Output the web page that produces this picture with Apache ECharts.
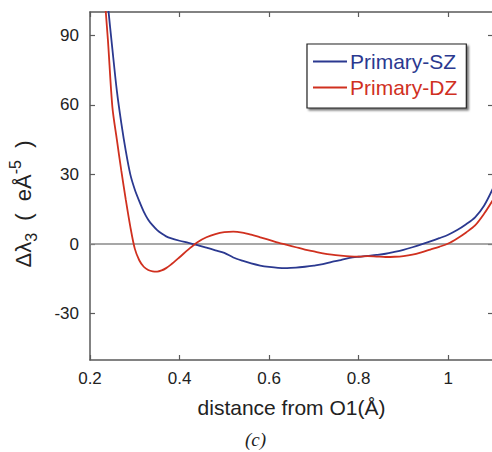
<!DOCTYPE html>
<html>
<head>
<meta charset="utf-8">
<script src="https://cdn.jsdelivr.net/npm/echarts@6/dist/echarts.min.js"></script>
<style>
html,body{margin:0;padding:0;background:#fff;}
#chart{width:492px;height:452px;}
</style>
</head>
<body>
<div id="chart"></div>
<script>
// distance from O1 (Å)
const distance = [0.21,0.22,0.23,0.24,0.25,0.26,0.27,0.28,0.29,0.30,0.31,0.32,0.33,0.34,0.35,0.36,0.37,0.38,0.40,0.42,0.44,0.46,0.48,0.50,0.52,0.54,0.56,0.58,0.60,0.62,0.64,0.66,0.68,0.70,0.72,0.74,0.76,0.78,0.80,0.82,0.84,0.86,0.88,0.90,0.92,0.94,0.96,0.98,1.00,1.02,1.04,1.06,1.08,1.10];
// Primary-SZ
const primarySZ = [175,150,125,103,84,66,52,40,30,23.5,18.5,14,10.5,8,6,4.5,3.3,2.5,1.4,0.5,-0.5,-1.6,-2.7,-3.8,-5.8,-7.2,-8.4,-9.3,-9.9,-10.3,-10.4,-10.2,-9.8,-9.3,-8.7,-7.7,-6.9,-6.0,-5.5,-5.1,-4.7,-4.2,-3.4,-2.5,-1.4,-0.2,1.1,2.5,4.0,6.0,8.5,11.5,16.5,24];
// Primary-DZ
const primaryDZ = [165,138,113,88,59,45,31.5,19,7.5,-2,-7,-9.8,-11.2,-11.8,-11.9,-11.4,-10.4,-9,-5.7,-2.3,0.8,2.9,4.3,5.1,5.3,4.9,4.0,2.9,1.8,0.6,-0.4,-1.4,-2.4,-3.2,-4.0,-4.6,-5.0,-5.3,-5.4,-5.2,-5.4,-5.6,-5.5,-5.2,-4.6,-3.6,-2.4,-1.2,0.2,2.4,5.0,8.0,13.0,19];
const xTicks = [0.2,0.4,0.6,0.8,1.0];
const xTickLabels = ['0.2','0.4','0.6','0.8','1'];
const yTicks = [-30,0,30,60,90];
const yTickLabels = ['-30','0','30','60','90'];

const FONT = "'Liberation Sans', Arial, sans-serif";
const AX = '#5a5a5a';

const chart = echarts.init(document.getElementById('chart'), null, {renderer:'svg'});

function xAxisBase(pos, showLabels){
  return {
    type:'value', position:pos, min:0.2, max:1.1,
    axisLine:{show:true, onZero:false, lineStyle:{color:AX, width:1.5}},
    axisTick:{show:true, inside:true, length:5, customValues:xTicks, lineStyle:{color:AX, width:1.2}},
    axisLabel:{show:showLabels, customValues:xTicks, margin:10,
      formatter:(v)=>{const i=xTicks.findIndex(t=>Math.abs(t-v)<1e-6);return i>=0?xTickLabels[i]:'';},
      color:'#222', fontSize:17, fontFamily:FONT},
    splitLine:{show:false}
  };
}
function yAxisBase(pos, showLabels){
  return {
    type:'value', position:pos, min:-50, max:100,
    axisLine:{show:true, onZero:false, lineStyle:{color:AX, width:1.5}},
    axisTick:{show:true, inside:true, length:5, customValues:yTicks, lineStyle:{color:AX, width:1.2}},
    axisLabel:{show:showLabels, customValues:yTicks, margin:11,
      formatter:(v)=>{const i=yTicks.findIndex(t=>Math.abs(t-v)<1e-6);return i>=0?yTickLabels[i]:'';},
      color:'#222', fontSize:17, fontFamily:FONT},
    splitLine:{show:false}
  };
}

const xb = xAxisBase('bottom', true);
xb.name = 'distance from O1(Å)';
xb.nameLocation = 'middle';
xb.nameGap = 37;
xb.nameTextStyle = {fontSize:21, color:'#222', fontFamily:FONT};

const yl = yAxisBase('left', true);
yl.name = '{a|Δλ}{sub|3}{a|  (  eÅ}{sup|-5}{a|  )}';
yl.nameLocation = 'middle';
yl.nameGap = 51;
yl.nameTextStyle = {
  color:'#222', fontFamily:FONT, padding:[0,36,0,0],
  rich:{
    a:{fontSize:22, lineHeight:32, color:'#222', fontFamily:FONT},
    sub:{fontSize:16, lineHeight:15, verticalAlign:'bottom', color:'#222', fontFamily:FONT},
    sup:{fontSize:16, lineHeight:15, verticalAlign:'top', color:'#222', fontFamily:FONT}
  }
};

const option = {
  backgroundColor:'#fff',
  animation:false,
  grid:{left:90, top:12, width:403, height:348, containLabel:false, outerBoundsMode:'none'},
  legend:{
    orient:'vertical', left:307, top:44,
    data:[
      {name:'Primary-SZ', textStyle:{color:'#2b3990'}},
      {name:'Primary-DZ', textStyle:{color:'#d0301f'}}
    ],
    icon:'rect', itemWidth:34, itemHeight:2, itemGap:5,
    padding:[7,9,10,6],
    backgroundColor:'#fff', borderColor:'#222', borderWidth:1.2,
    shadowColor:'rgba(0,0,0,0.55)', shadowBlur:2, shadowOffsetX:2, shadowOffsetY:2,
    textStyle:{fontSize:21, fontFamily:FONT, padding:[0,0,0,-2]}
  },
  xAxis:[xb, xAxisBase('top', false)],
  yAxis:[yl, yAxisBase('right', false)],
  series:[
    {
      name:'Primary-SZ', type:'line', xAxisIndex:0, yAxisIndex:0,
      data:distance.map((x,i)=>[x, primarySZ[i]]),
      smooth:0.3, showSymbol:false, clip:true,
      lineStyle:{color:'#2b3990', width:1.8}, itemStyle:{color:'#2b3990'},
      z:3,
      markLine:{
        silent:true, symbol:['none','none'], label:{show:false},
        lineStyle:{color:'#8a8a8a', width:1.5, type:'solid'},
        data:[{yAxis:0}], z:1
      }
    },
    {
      name:'Primary-DZ', type:'line', xAxisIndex:0, yAxisIndex:0,
      data:distance.map((x,i)=>[x, primaryDZ[i]]),
      smooth:0.3, showSymbol:false, clip:true,
      lineStyle:{color:'#d0301f', width:1.8}, itemStyle:{color:'#d0301f'},
      z:3
    }
  ],
  graphic:[
    {type:'text', left:245, top:430,
     style:{text:'(c)', font:"italic 19px 'Liberation Serif', 'Times New Roman', serif", fill:'#222'}}
  ]
};
chart.setOption(option);
</script>
</body>
</html>
